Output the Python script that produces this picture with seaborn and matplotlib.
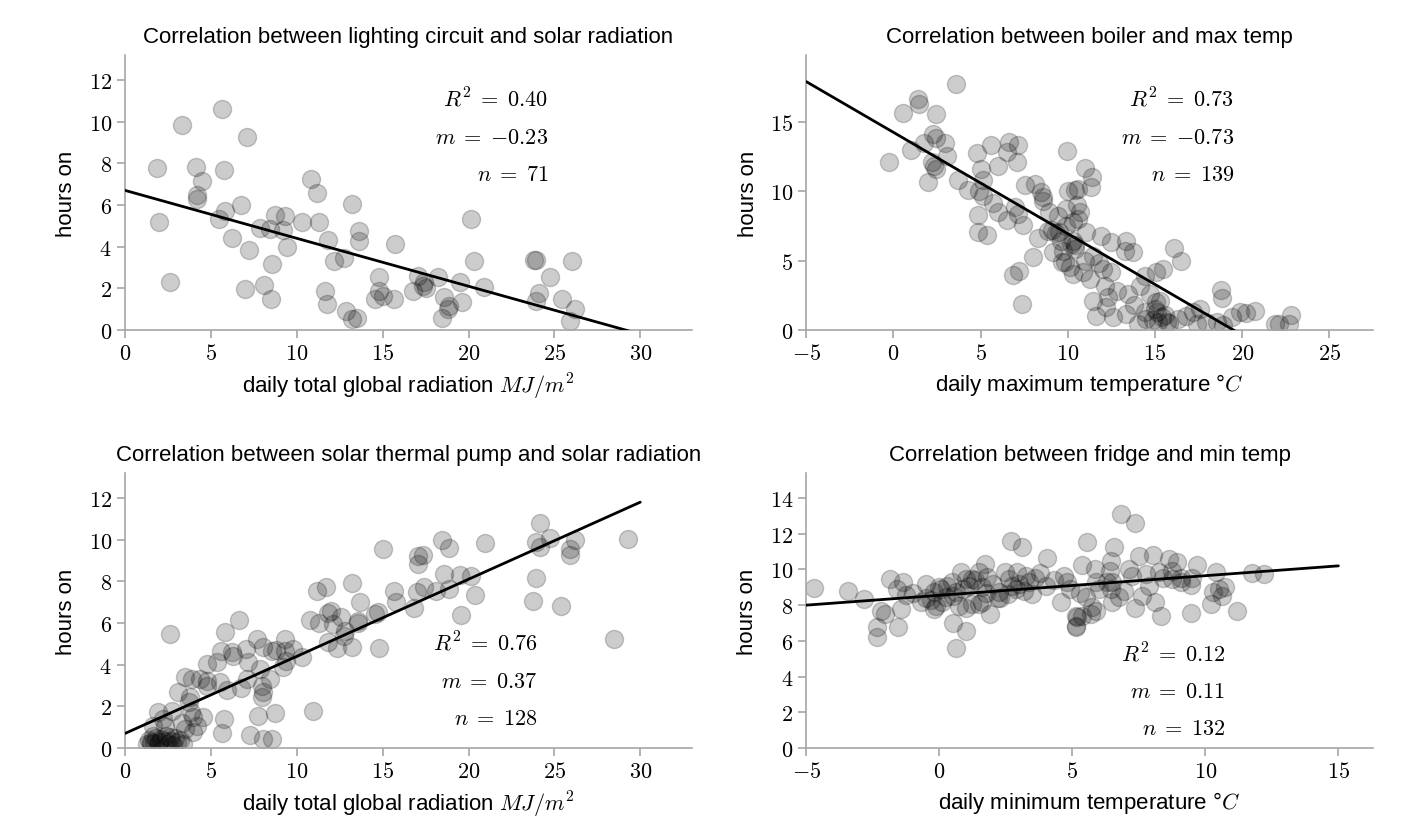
import matplotlib
matplotlib.use('Agg')
import matplotlib.pyplot as plt
import matplotlib.ticker as mticker
import pandas as pd
import seaborn as sns

# points: (x, hours on)
lighting_pts = [
    (5.66, 10.59), (3.32, 9.86), (7.08, 9.25), (1.84, 7.79), (4.13, 7.82), (5.78, 7.66), (4.46, 7.15),
    (4.21, 6.5), (4.17, 6.3), (10.8, 7.27), (11.17, 6.57), (13.22, 6.04), (6.73, 6.02), (5.84, 5.72),
    (5.45, 5.35), (1.98, 5.16), (8.71, 5.5), (9.33, 5.47), (7.85, 4.89), (8.42, 4.84), (9.19, 4.81),
    (10.28, 5.18), (11.29, 5.18), (6.24, 4.42), (11.83, 4.3), (13.63, 4.73), (13.61, 4.25), (15.73, 4.12),
    (7.21, 3.85), (9.44, 3.96), (8.53, 3.17), (12.18, 3.3), (12.74, 3.45), (2.62, 2.32), (7.0, 1.96),
    (8.09, 2.15), (8.47, 1.49), (11.67, 1.89), (11.77, 1.25), (12.84, 0.91), (13.2, 0.53), (13.52, 0.56),
    (14.78, 2.52), (14.8, 1.86), (14.57, 1.47), (15.03, 1.62), (15.65, 1.5), (16.77, 1.89), (17.06, 2.61),
    (17.36, 2.13), (20.15, 5.34), (20.34, 3.32), (23.83, 3.38), (23.95, 3.38), (26.02, 3.33), (24.74, 2.55),
    (17.55, 2.0), (18.23, 2.53), (19.49, 2.29), (20.9, 2.05), (18.57, 1.57), (18.86, 1.17), (18.8, 1.01),
    (19.6, 1.36), (18.46, 0.56), (24.1, 1.76), (23.93, 1.38), (25.44, 1.49), (26.18, 1.01), (25.89, 0.45),
    (17.4, 2.3),
]

boiler_pts = [
    (3.56, 17.69), (1.38, 16.61), (1.48, 16.25), (0.56, 15.65), (2.45, 15.55), (2.24, 14.09), (2.44, 13.85),
    (1.76, 13.49), (2.93, 13.44), (0.98, 12.96), (3.07, 12.53), (-0.25, 12.1), (2.21, 12.1), (2.34, 11.81),
    (2.44, 11.57), (1.98, 10.66), (3.68, 10.78), (4.79, 12.72), (5.57, 13.3), (6.65, 13.54), (7.15, 13.3),
    (6.49, 12.82), (5.0, 11.62), (5.98, 11.81), (7.07, 12.06), (5.11, 10.81), (4.25, 10.09), (4.93, 10.01),
    (5.11, 9.66), (5.69, 9.13), (6.0, 8.46), (4.87, 8.27), (6.53, 7.89), (6.99, 8.82), (7.13, 8.34),
    (7.45, 7.57), (4.87, 7.07), (5.37, 6.83), (7.53, 10.42), (8.09, 10.5), (8.47, 9.94), (8.56, 9.54),
    (8.6, 9.3), (9.94, 12.89), (10.0, 10.01), (10.4, 10.1), (7.99, 5.22), (7.22, 4.26), (6.88, 3.95),
    (7.38, 1.87), (9.14, 5.58), (9.68, 4.91), (10.29, 4.03), (8.85, 7.14), (9.1, 7.2), (9.3, 7.0),
    (9.43, 8.22), (9.91, 8.7), (9.91, 7.5), (10.29, 6.42), (10.4, 6.1), (10.6, 8.0), (10.5, 9.0),
    (10.96, 11.69), (11.38, 10.98), (11.35, 10.33), (10.57, 10.14), (10.67, 8.46), (10.29, 7.74),
    (11.06, 7.02), (9.52, 7.02), (10.2, 6.18), (10.39, 5.82), (9.7, 5.7), (11.44, 5.34), (9.81, 4.87),
    (10.86, 4.15), (11.25, 3.67), (12.01, 4.39), (12.49, 4.15), (12.49, 6.3), (13.36, 6.42), (13.26, 5.7),
    (13.74, 5.63), (12.11, 3.19), (11.44, 2.11), (12.3, 2.35), (12.2, 1.65), (11.63, 1.03), (12.59, 0.91),
    (13.36, 1.15), (14.02, 0.43), (13.45, 2.59), (14.12, 3.19), (14.41, 3.9), (15.08, 4.15), (15.46, 4.39),
    (16.07, 5.9), (16.48, 4.94), (14.7, 2.59), (15.08, 1.99), (15.3, 2.1), (15.1, 1.3), (15.4, 0.9),
    (15.6, 1.1), (14.9, 0.7), (15.7, 0.6), (15.2, 0.6), (15.0, 1.5), (14.41, 1.27), (15.8, 0.5),
    (16.8, 1.03), (17.18, 1.27), (17.57, 1.51), (17.95, 0.55), (18.53, 0.55), (18.9, 0.35), (18.78, 2.9),
    (18.82, 2.28), (19.39, 0.91), (19.87, 1.27), (20.2, 1.2), (20.73, 1.39), (21.88, 0.43), (22.1, 0.43),
    (22.7, 0.43), (22.8, 1.1), (11.8, 4.8), (11.0, 5.0), (8.3, 6.6), (9.6, 6.4), (13.8, 1.8), (14.5, 0.8),
    (16.3, 0.8), (17.4, 0.4), (12.8, 2.8), (11.9, 6.8), (10.1, 4.5), (8.9, 8.5),
]

pump_pts = [
    (15.03, 9.57), (11.15, 7.56), (11.69, 7.72), (13.22, 7.92), (13.67, 7.0), (15.65, 7.52), (15.76, 7.03),
    (10.76, 6.15), (11.3, 6.0), (11.83, 6.49), (11.98, 6.6), (12.12, 5.96), (12.6, 6.28), (12.8, 5.64),
    (12.74, 5.4), (13.57, 6.12), (13.57, 5.98), (14.54, 6.44), (14.74, 6.52), (11.79, 5.08), (12.35, 4.79),
    (13.22, 4.84), (14.78, 4.79), (16.81, 6.72), (17.0, 7.5), (17.06, 8.85), (17.06, 9.2), (2.62, 5.48),
    (5.84, 5.59), (6.65, 6.15), (4.79, 4.04), (5.37, 4.15), (5.57, 4.68), (6.21, 4.6), (6.3, 4.4),
    (7.04, 4.76), (7.17, 4.12), (7.7, 5.24), (8.05, 4.84), (8.53, 4.68), (8.8, 4.7), (9.29, 5.21),
    (9.31, 4.68), (9.79, 4.76), (10.28, 4.36), (9.4, 4.2), (9.21, 3.88), (7.85, 3.8), (7.08, 3.32),
    (8.43, 3.32), (7.95, 3.0), (8.01, 2.68), (7.95, 2.44), (8.73, 1.68), (7.72, 1.55), (5.76, 1.39),
    (5.66, 0.72), (7.27, 0.63), (8.01, 0.43), (8.53, 0.43), (10.92, 1.79), (6.73, 2.87), (5.92, 2.8),
    (5.53, 3.16), (4.79, 3.0), (4.79, 3.2), (4.36, 3.32), (3.88, 3.32), (3.49, 3.4), (3.1, 2.68),
    (3.78, 2.44), (3.7, 2.2), (3.84, 1.72), (3.97, 1.5), (4.56, 1.48), (4.17, 1.07), (3.97, 0.75),
    (2.72, 1.79), (1.94, 1.72), (2.23, 1.39), (1.65, 1.07), (2.3, 1.07), (3.3, 1.2), (3.5, 0.9),
    (1.3, 0.2), (1.5, 0.2), (1.7, 0.25), (2.0, 0.3), (2.3, 0.35), (2.7, 0.35), (3.0, 0.3), (3.4, 0.2),
    (1.8, 0.5), (2.6, 0.55), (1.5, 0.3), (1.9, 0.2), (2.5, 0.2), (2.9, 0.5), (3.2, 0.4), (1.4, 0.4),
    (2.1, 0.45), (2.8, 0.15), (1.6, 0.6), (2.4, 0.6),
    (24.14, 10.8), (23.91, 9.89), (24.14, 9.65), (24.72, 10.08), (26.18, 9.97), (25.89, 9.57),
    (25.89, 9.28), (29.28, 10.05), (18.46, 10.0), (18.87, 9.6), (20.94, 9.86), (17.35, 9.28),
    (18.56, 8.37), (19.49, 8.28), (20.13, 8.25), (17.39, 7.72), (18.13, 7.56), (18.87, 7.61),
    (20.36, 7.36), (23.95, 8.17), (23.75, 7.08), (25.4, 6.81), (19.55, 6.39), (28.5, 5.21),
]

fridge_pts = [
    (-4.71, 8.94), (-3.43, 8.81), (-2.83, 8.34), (-1.86, 9.46), (-1.36, 9.28), (-1.58, 8.9), (-1.26, 8.57),
    (-2.2, 7.69), (-2.04, 7.5), (-1.45, 7.78), (-2.33, 6.76), (-2.35, 6.23), (-1.55, 6.79), (0.62, 5.58),
    (0.53, 7.0), (1.02, 6.57), (-0.51, 9.18), (-0.7, 8.16), (-0.2, 8.72), (-0.01, 9.0), (0.24, 8.44),
    (-0.14, 7.97), (-0.3, 8.3), (0.08, 8.9), (0.49, 9.28), (0.62, 8.72), (0.83, 9.84), (0.99, 9.46),
    (1.24, 9.46), (1.49, 9.84), (1.71, 10.3), (0.74, 7.97), (0.99, 7.82), (1.24, 8.06), (1.62, 8.16),
    (1.9, 7.5), (1.36, 9.4), (2.24, 8.72), (2.3, 8.4), (2.47, 9.84), (2.62, 9.46), (2.74, 9.09),
    (2.93, 9.84), (3.25, 9.65), (3.37, 9.28), (3.5, 8.62), (2.68, 11.61), (3.1, 11.24), (4.06, 10.62),
    (4.0, 9.09), (4.69, 9.65), (4.81, 9.28), (4.9, 8.9), (4.56, 8.16), (5.13, 7.41), (5.13, 6.85),
    (1.49, 8.06), (-0.2, 7.78), (2.2, 8.4), (1.74, 8.68),
    (6.84, 13.1), (7.36, 12.58), (5.56, 11.55), (6.57, 11.24), (5.35, 10.25), (6.44, 10.49), (7.51, 10.73),
    (8.03, 10.81), (8.64, 10.58), (8.95, 10.4), (9.7, 10.25), (10.39, 9.84), (11.77, 9.78), (12.21, 9.74),
    (5.85, 10.02), (6.4, 9.9), (6.5, 9.3), (6.3, 9.3), (5.9, 9.3), (7.13, 10.02), (7.26, 9.65),
    (7.76, 9.74), (8.26, 9.84), (8.4, 9.5), (8.76, 9.93), (8.76, 9.46), (9.07, 9.5), (9.1, 9.3),
    (9.45, 9.13), (9.5, 9.5), (5.5, 8.44), (6.0, 8.9), (6.44, 8.9), (6.94, 8.81), (6.5, 8.16),
    (6.76, 8.44), (7.36, 7.82), (5.75, 7.88), (5.9, 7.7), (5.69, 7.5), (5.38, 7.41), (5.19, 7.32),
    (5.15, 6.76), (8.35, 7.41), (9.45, 7.56), (10.2, 8.06), (10.29, 8.72), (10.64, 8.53), (10.73, 9.0),
    (11.2, 7.69), (10.5, 8.9),
    (0.3, 9.1), (0.9, 8.9), (1.1, 9.1), (1.6, 9.0), (2.0, 9.2), (2.9, 8.9), (3.2, 8.8), (3.6, 9.5),
    (0.1, 8.2), (0.5, 8.5), (-0.5, 8.4), (1.8, 9.6), (2.6, 8.6), (3.0, 9.2), (3.8, 9.8), (4.3, 9.4),
    (5.3, 8.7), (7.6, 8.5), (7.9, 9.1), (8.1, 8.2), (-1.0, 8.7),
]

titles = [
    'Correlation between lighting circuit and solar radiation',
    'Correlation between boiler and max temp',
    'Correlation between solar thermal pump and solar radiation',
    'Correlation between fridge and min temp',
]
xlabels = [
    r'daily total global radiation $MJ/m^2$',
    r'daily maximum temperature °$C$',
    r'daily total global radiation $MJ/m^2$',
    r'daily minimum temperature °$C$',
]
r2_vals = ['0.40', '0.73', '0.76', '0.12']
m_vals = ['-0.23', '-0.73', '0.37', '0.11']
n_vals = [71, 139, 128, 132]
# fitted lines: slope, intercept at x=0, x range
fit_slope = [-0.23, -0.73, 0.37, 0.11]
fit_icept = [6.7, 14.23, 0.7, 8.55]
fit_xrange = [(0, 30), (-5, 25), (0, 30), (-5, 15)]

xlims = [(0, 33), (-5, 27.5), (0, 33), (-5, 16.3)]
ylims = [(0, 13.2), (0, 19.8), (0, 13.2), (0, 15.4)]
yticks = [range(0, 13, 2), range(0, 16, 5), range(0, 13, 2), range(0, 15, 2)]
xticks = [range(0, 31, 5), range(-5, 26, 5), range(0, 31, 5), range(-5, 16, 5)]
# where the stats block sits (axes fraction): right edge, baselines
text_pos = [
    (0.747, [0.815, 0.68, 0.546]),
    (0.755, [0.815, 0.68, 0.546]),
    (0.728, [0.356, 0.222, 0.087]),
    (0.740, [0.316, 0.186, 0.051]),
]

sns.set_style('ticks')
plt.rcParams['font.family'] = ['Liberation Sans', 'DejaVu Sans']
plt.rcParams['mathtext.fontset'] = 'cm'
plt.rcParams['text.color'] = 'k'
plt.rcParams['axes.labelcolor'] = 'k'
grey = '#a6a6a6'

fig, axes = plt.subplots(2, 2, figsize=(14.02, 8.28), dpi=100)
fig.subplots_adjust(left=0.0892, right=0.9793, bottom=0.0954, top=0.9324, wspace=0.202, hspace=0.52)

all_pts = [lighting_pts, boiler_pts, pump_pts, fridge_pts]
fmt = mticker.FuncFormatter(lambda v, p: '$%g$' % v)

for i, ax in enumerate(axes.flat):
    df = pd.DataFrame(all_pts[i], columns=['x', 'y'])
    sns.scatterplot(data=df, x='x', y='y', ax=ax, s=170, color='k', alpha=0.2,
                    edgecolor='k', linewidth=1, legend=False, zorder=2)

    lx = list(fit_xrange[i])
    ly = [fit_icept[i] + fit_slope[i] * v for v in lx]
    sns.lineplot(x=lx, y=ly, ax=ax, color='k', linewidth=2, zorder=3)

    ax.set_xlim(*xlims[i])
    ax.set_ylim(*ylims[i])
    ax.set_xticks(list(xticks[i]))
    ax.set_yticks(list(yticks[i]))
    ax.xaxis.set_major_formatter(fmt)
    ax.yaxis.set_major_formatter(fmt)
    ax.tick_params(colors=grey, labelcolor='k', labelsize=16, length=6, width=1.2, direction='out')

    sns.despine(ax=ax)
    for sp in ['left', 'bottom']:
        ax.spines[sp].set_color(grey)
        ax.spines[sp].set_linewidth(1.2)

    ax.set_title(titles[i], fontsize=16, pad=9)
    ax.set_xlabel(xlabels[i], fontsize=16, labelpad=5)
    ax.set_ylabel('hours on', fontsize=16, labelpad=8)

    tx, tys = text_pos[i]
    m_txt = m_vals[i].replace('-', '{-}')
    labels = [r'$R^2\;=\;%s$' % r2_vals[i], r'$m\;=\;%s$' % m_txt, r'$n\;=\;%d$' % n_vals[i]]
    for lab, ty in zip(labels, tys):
        ax.text(tx, ty, lab, transform=ax.transAxes, ha='right', va='baseline', fontsize=16)

plt.savefig('out.png', dpi=100)
